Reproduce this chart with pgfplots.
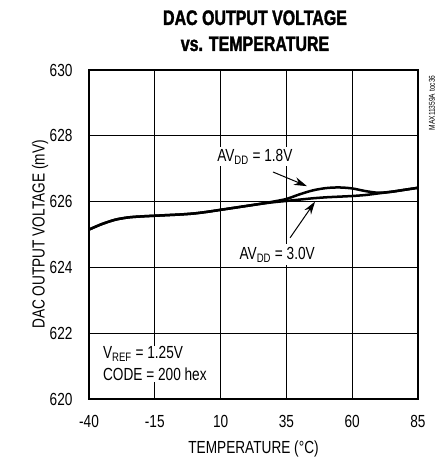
\documentclass[border=0pt]{standalone}
\usepackage{fontspec}
\setmainfont{Liberation Sans}[FakeStretch=0.78]
\newfontfamily\titlefont{Liberation Sans}[FakeStretch=0.76, BoldFeatures={FakeBold=1.5}]
\usepackage{pgfplots}
\pgfplotsset{compat=1.18}
\usetikzlibrary{arrows.meta}
\begin{document}
\begin{tikzpicture}[font=\fontsize{17.5}{20}\selectfont]
\useasboundingbox (-89pt,-59pt) rectangle (358pt,399pt);
\begin{axis}[
  at={(0,0)}, anchor=south west,
  scale only axis, width=329pt, height=329pt,
  xmin=-40, xmax=85, ymin=620, ymax=630,
  xtick={-40,-15,10,35,60,85},
  xticklabels={-40,-15,10,35,60,85},
  ytick={620,622,624,626,628,630},
  yticklabels={620,622,624,626,628,630},
  major tick length=0pt,
  grid=major,
  grid style={black, line width=0.7pt},
  axis line style={line width=2pt},
  xticklabel style={anchor=base, yshift=-28pt},
  yticklabel style={anchor=east, xshift=-13pt},
  xlabel={TEMPERATURE (°C)},
  ylabel={DAC OUTPUT VOLTAGE (mV)},
  xlabel style={at={(axis description cs:0.5,-0.152)}, anchor=center},
  ylabel style={at={(axis description cs:-0.149,0.5)}, anchor=center, rotate=0},
]
% AVDD = 1.8V
\addplot[black, line width=2.5pt, smooth] coordinates {
  (-40,625.15) (-35,625.32) (-30,625.45) (-25,625.52) (-20,625.55) (-15,625.57)
  (-10,625.59) (-5,625.61) (0,625.64) (5,625.69) (10,625.75) (15,625.81)
  (20,625.87) (25,625.93) (30,626.00) (35,626.08) (40,626.22) (45,626.34)
  (50,626.41) (55,626.43) (60,626.40) (65,626.32) (70,626.27) (75,626.30)
  (80,626.36) (85,626.42)
};
% AVDD = 3.0V
\addplot[black, line width=2.5pt, smooth] coordinates {
  (-40,625.15) (-35,625.32) (-30,625.45) (-25,625.52) (-20,625.55) (-15,625.57)
  (-10,625.59) (-5,625.61) (0,625.64) (5,625.69) (10,625.75) (15,625.81)
  (20,625.87) (25,625.93) (30,625.98) (35,626.02) (40,626.06) (45,626.10)
  (50,626.13) (55,626.15) (60,626.17) (65,626.20) (70,626.25) (75,626.30)
  (80,626.36) (85,626.42)
};
\node[fill=white, inner sep=2pt] at (axis cs:23,627.36) {AV\textsubscript{DD} = 1.8V};
\node[fill=white, inner sep=3pt] at (axis cs:31.5,624.38) {AV\textsubscript{DD} = 3.0V};
\draw[line width=1pt, -{Stealth[length=13pt,width=8pt]}] (axis cs:29.9,626.9) -- (axis cs:42.8,626.47);
\draw[line width=1pt, -{Stealth[length=13pt,width=8pt]}] (axis cs:36.4,624.9) -- (axis cs:45.9,626.0);
\node[fill=white, inner sep=1pt, anchor=west, align=left, font=\fontsize{17.5}{22}\selectfont]
  at (axis cs:-35.1,621.07) {V\textsubscript{REF} = 1.25V\\CODE = 200 hex};
\end{axis}
\node[font=\fontsize{21}{25}\titlefont\bfseries, anchor=base] at (166pt,374pt) {DAC OUTPUT VOLTAGE};
\node[font=\fontsize{21}{25}\titlefont\bfseries, anchor=base] at (166pt,348pt) {vs. TEMPERATURE};
\node[font=\fontsize{8.5}{9}\selectfont, rotate=90, anchor=east] at (343pt,327pt) {MAX11359A toc36};
\end{tikzpicture}
\end{document}
